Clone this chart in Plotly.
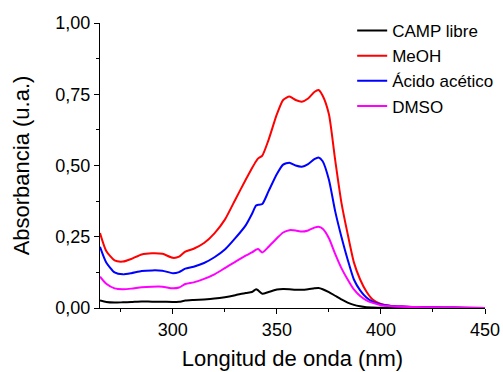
import plotly.graph_objects as go

wavelength = [265, 268, 272, 276, 280, 285, 290, 295, 300, 303, 306, 310, 315, 320, 325, 330,
              335, 338, 340, 341, 343, 346, 350, 353, 356, 359, 362, 365, 368, 370, 372, 375,
              378, 381, 384, 387, 390, 393, 396, 400, 405, 410, 420, 430, 440, 450]

camp_libre = [0.026, 0.021, 0.019, 0.020, 0.021, 0.023, 0.022, 0.022, 0.021, 0.022, 0.026, 0.028,
              0.030, 0.033, 0.038, 0.045, 0.053, 0.056, 0.066, 0.062, 0.050, 0.056, 0.065, 0.067,
              0.066, 0.064, 0.064, 0.066, 0.069, 0.070, 0.066, 0.056, 0.043, 0.030, 0.019, 0.011,
              0.006, 0.003, 0.002, 0.001, 0.001, 0.0, 0.0, 0.0, 0.0, 0.0]

meoh = [0.263, 0.200, 0.167, 0.163, 0.172, 0.188, 0.192, 0.190, 0.176, 0.180, 0.198, 0.208,
        0.228, 0.262, 0.310, 0.380, 0.450, 0.490, 0.515, 0.525, 0.535, 0.590, 0.680, 0.730,
        0.742, 0.730, 0.724, 0.735, 0.758, 0.765, 0.745, 0.680, 0.520, 0.370, 0.260, 0.160,
        0.100, 0.058, 0.030, 0.014, 0.007, 0.005, 0.003, 0.002, 0.001, 0.0]

acido_acetico = [0.215, 0.160, 0.125, 0.118, 0.122, 0.130, 0.132, 0.131, 0.122, 0.126, 0.138, 0.145,
                 0.158, 0.178, 0.205, 0.245, 0.290, 0.330, 0.360, 0.362, 0.365, 0.410, 0.470, 0.503,
                 0.510, 0.500, 0.496, 0.505, 0.522, 0.528, 0.515, 0.450, 0.340, 0.250, 0.170, 0.100,
                 0.062, 0.037, 0.022, 0.012, 0.007, 0.005, 0.003, 0.002, 0.001, 0.0]

dmso = [0.110, 0.085, 0.069, 0.066, 0.068, 0.073, 0.075, 0.075, 0.069, 0.072, 0.084, 0.090,
        0.102, 0.118, 0.140, 0.162, 0.184, 0.195, 0.205, 0.207, 0.195, 0.215, 0.245, 0.265,
        0.273, 0.272, 0.268, 0.272, 0.282, 0.285, 0.278, 0.245, 0.190, 0.140, 0.100, 0.065,
        0.042, 0.027, 0.018, 0.010, 0.006, 0.004, 0.003, 0.002, 0.001, 0.0]

series = [
    ("CAMP libre", camp_libre, "#000000"),
    ("MeOH", meoh, "#ff0000"),
    ("Ácido acético", acido_acetico, "#0000ff"),
    ("DMSO", dmso, "#ff00ff"),
]

fig = go.Figure()
for name, vals, color in series:
    fig.add_trace(go.Scatter(x=wavelength, y=vals, name=name, mode="lines",
                             line=dict(color=color, width=2, shape="spline", smoothing=0.6)))

font_family = "Liberation Sans, Arial, sans-serif"
fig.update_layout(
    width=503, height=372,
    margin=dict(l=100, r=18, t=23, b=64, autoexpand=False),
    paper_bgcolor="white", plot_bgcolor="white",
    separators=",.",
    font=dict(family=font_family, color="black", size=18),
    showlegend=True,
    legend=dict(x=0.655, y=1.035, xanchor="left", yanchor="top",
                bgcolor="rgba(0,0,0,0)", font=dict(size=17), tracegroupgap=0),
)
fig.update_xaxes(
    range=[265, 450], showgrid=False, zeroline=False, automargin=False,
    showline=True, linecolor="black", linewidth=1,
    ticks="outside", ticklen=5, tickcolor="black", dtick=50, tick0=300,
    minor=dict(ticks="outside", ticklen=3, dtick=25, tick0=300, tickcolor="black"),
    tickfont=dict(size=18),
    title=dict(text="Longitud de onda (nm)", font=dict(size=22), standoff=12),
)
fig.update_yaxes(
    range=[0, 1], showgrid=False, zeroline=False, automargin=False,
    showline=True, linecolor="black", linewidth=1,
    ticks="outside", ticklen=5, tickcolor="black", dtick=0.25, tickformat=".2f",
    minor=dict(ticks="outside", ticklen=3, dtick=0.125, tickcolor="black"),
    tickfont=dict(size=18),
    title=dict(text="Absorbancia (u.a.)", font=dict(size=22), standoff=19),
)

fig.write_html("out.html")
